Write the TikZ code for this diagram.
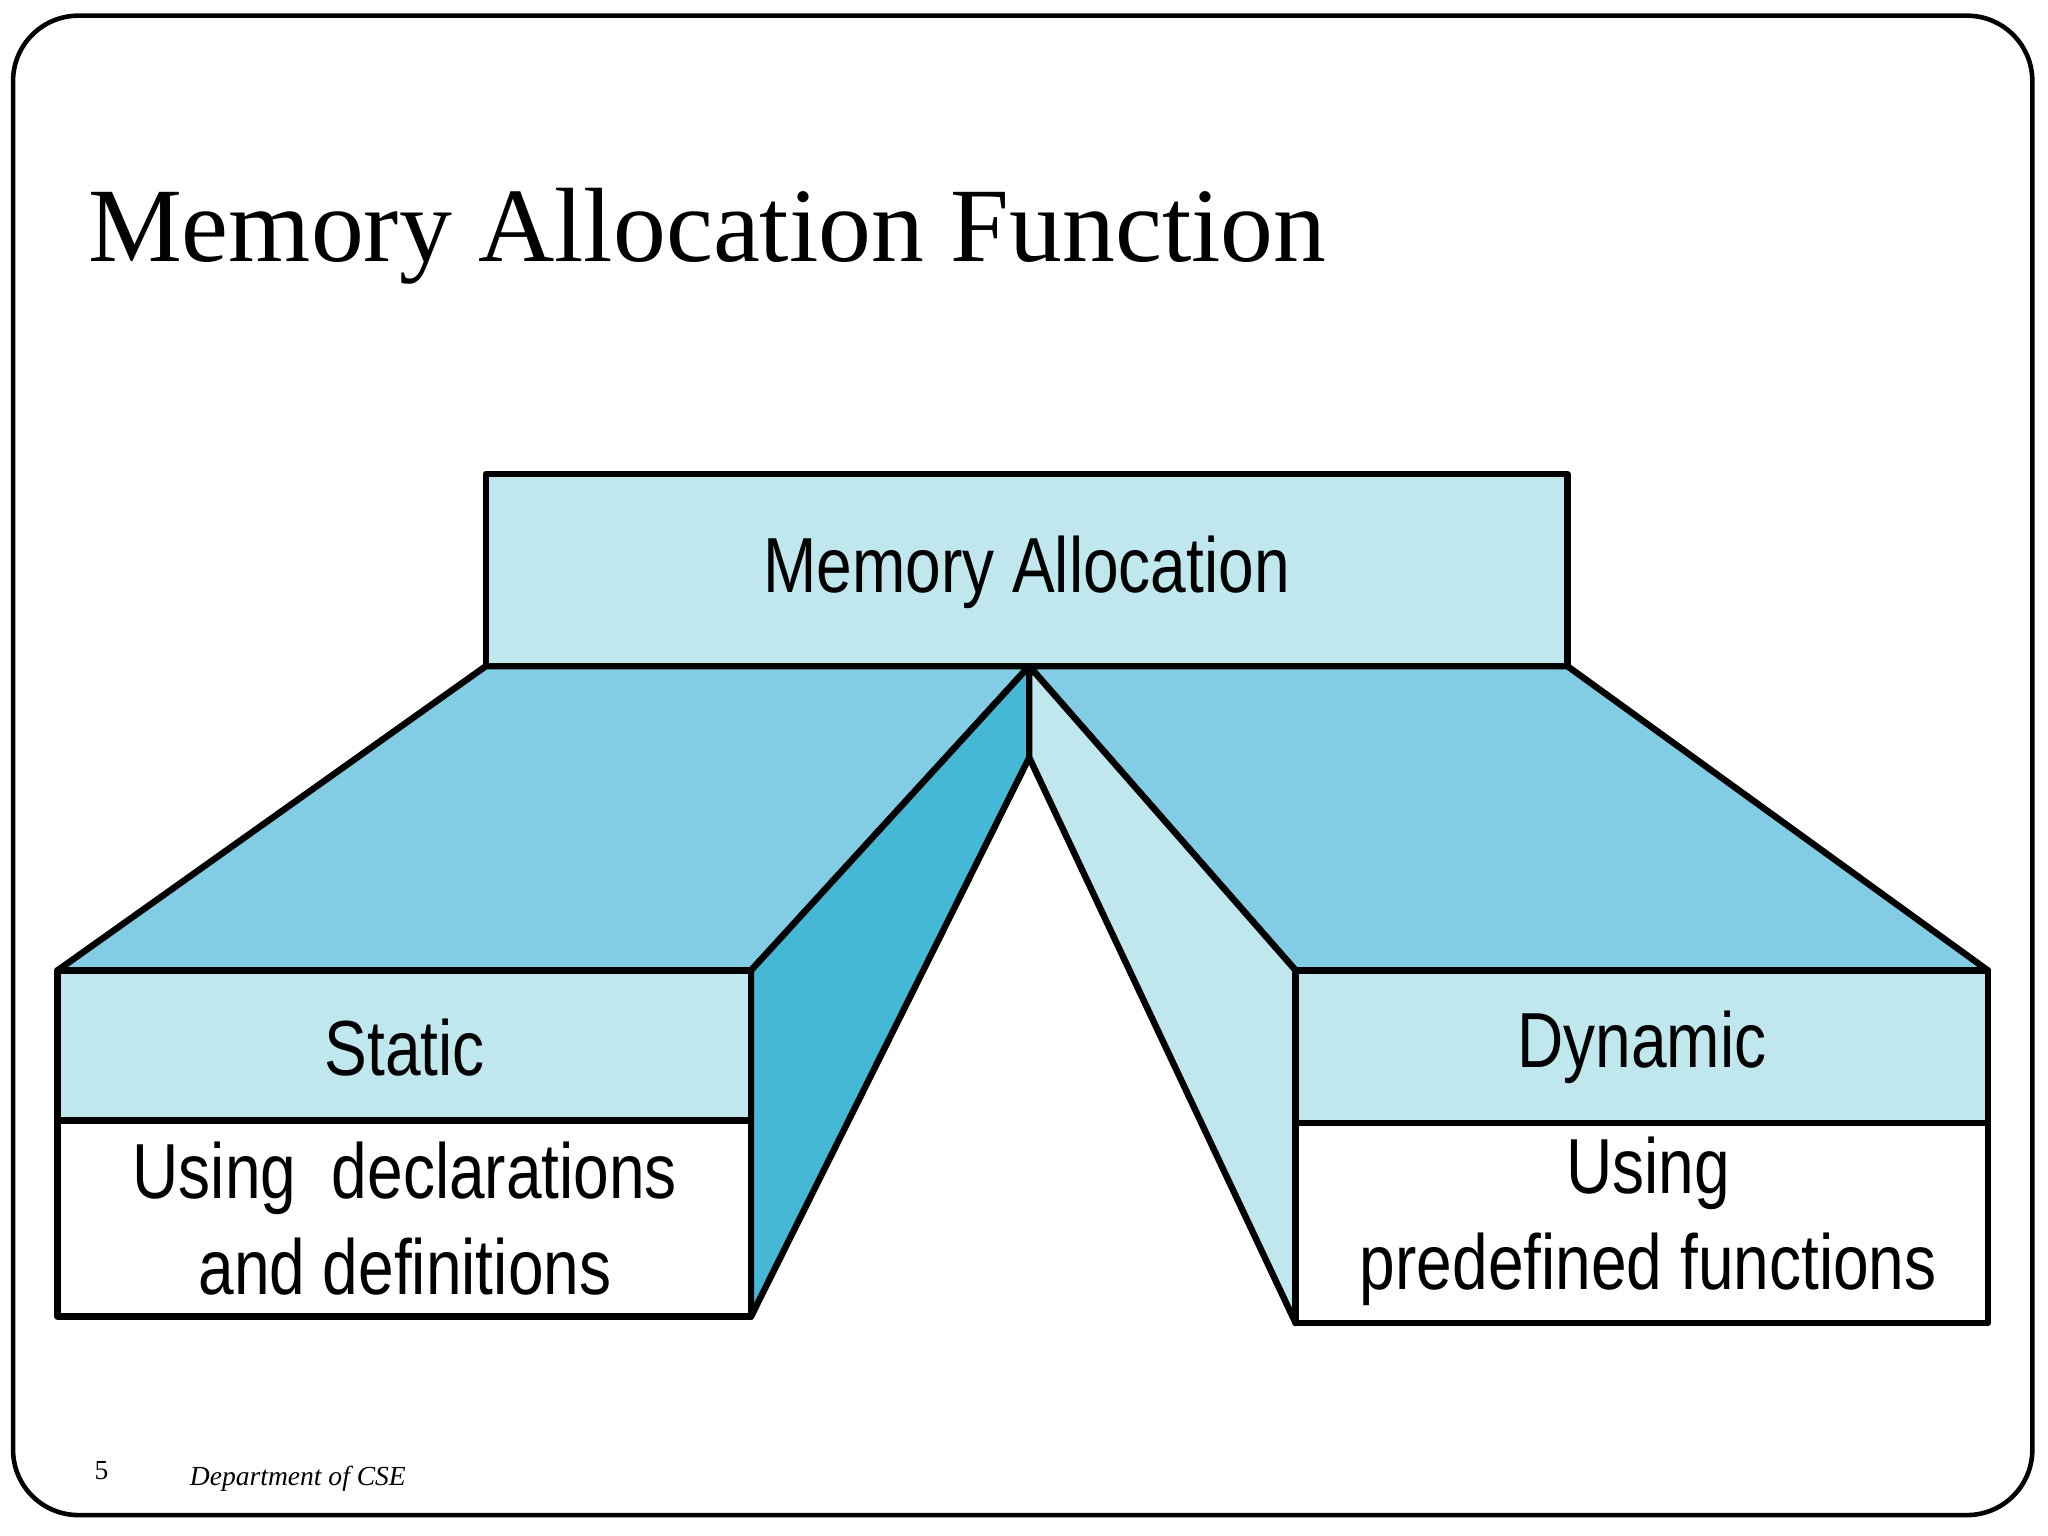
\documentclass[tikz,border=0pt]{standalone}
\usepackage{fontspec}
\setmainfont{Liberation Serif}
\newfontfamily\narrowsans{Liberation Sans}[FakeStretch=0.82]
\definecolor{paleblue}{HTML}{C0E6EE}
\definecolor{midblue}{HTML}{82CDE3}
\definecolor{deepblue}{HTML}{44B8D5}
\begin{document}
\begin{tikzpicture}[x=0.01cm,y=-0.01cm,
  face/.style={draw=black,line width=1.4pt,line join=round},
  lbl/.style={font=\narrowsans\fontsize{17}{19}\selectfont,align=center}]
\useasboundingbox (0,0) rectangle (1568,1176);
% slide frame
\draw[line width=1pt,rounded corners=0.5cm] (10,12) rectangle (1556,1160);
\node[anchor=base west,font=\fontsize{23}{26}\selectfont] (title) at (55,200) {Memory Allocation Function};
% faces
\filldraw[face,fill=midblue] (372,510) -- (788,510) -- (575,743) -- (44,743) -- cycle;
\filldraw[face,fill=midblue] (788,510) -- (1200,510) -- (1522,743) -- (992,743) -- cycle;
\filldraw[face,fill=deepblue] (788,510) -- (788,580) -- (575,1008) -- (575,743) -- cycle;
\filldraw[face,fill=paleblue] (788,510) -- (992,743) -- (992,1013) -- (788,580) -- cycle;
\filldraw[face,fill=paleblue] (372,363) rectangle (1200,510);
\filldraw[face,fill=paleblue] (44,743) rectangle (575,858);
\filldraw[face,fill=white] (44,858) rectangle (575,1008);
\filldraw[face,fill=paleblue] (992,743) rectangle (1522,860);
\filldraw[face,fill=white] (992,860) rectangle (1522,1013);
% labels
\node[lbl] (mem) at (786,438) {Memory Allocation};
\node[lbl] (stat) at (310,802) {Static};
\node[lbl,font=\narrowsans\fontsize{17}{21}\selectfont] (sdesc) at (310,933) {Using\ \ declarations\\and definitions};
\node[lbl] (dyn) at (1257,802) {Dynamic};
\node[lbl,font=\narrowsans\fontsize{17}{21}\selectfont] (ddesc) at (1262,935) {Using\\predefined functions};
% footer
\node[anchor=base west,font=\fontsize{6}{7}\selectfont] (page) at (60,1133) {5};
\node[anchor=base west,font=\itshape\fontsize{6}{7}\selectfont] (dept) at (133,1137) {Department of CSE};
\end{tikzpicture}
\end{document}
